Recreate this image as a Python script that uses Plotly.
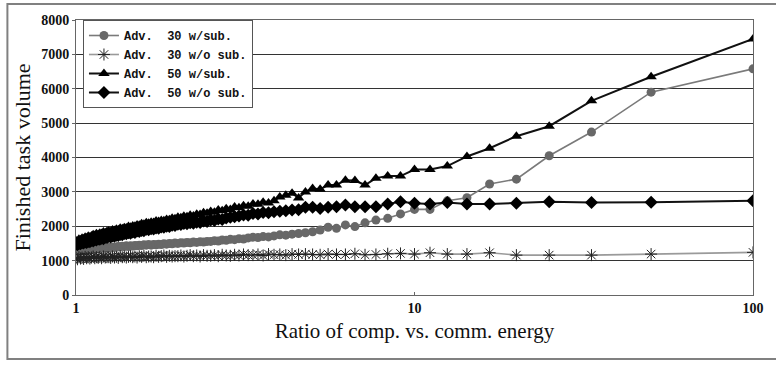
import plotly.graph_objects as go

# x: ratio of computation vs. communication energy (log axis)
ratio = [1.0, 1.010, 1.020, 1.031, 1.042, 1.053, 1.064, 1.075, 1.087, 1.099,
         1.111, 1.124, 1.136, 1.149, 1.163, 1.176, 1.190, 1.205, 1.220, 1.235,
         1.25, 1.266, 1.282, 1.299, 1.316, 1.333, 1.351, 1.370, 1.389, 1.408,
         1.429, 1.449, 1.471, 1.493, 1.515, 1.538, 1.5625, 1.587, 1.613, 1.639,
         1.667, 1.695, 1.724, 1.754, 1.786, 1.818, 1.852, 1.887, 1.923, 1.961,
         2.0, 2.041, 2.083, 2.128, 2.174, 2.222, 2.273, 2.326, 2.381, 2.439,
         2.5, 2.564, 2.632, 2.703, 2.778, 2.857, 2.941, 3.030, 3.125, 3.226,
         3.333, 3.448, 3.571, 3.704, 3.846, 4.0, 4.167, 4.348, 4.545, 4.762,
         5.0, 5.263, 5.556, 5.882, 6.25, 6.667, 7.143, 7.692, 8.333, 9.091,
         10.0, 11.111, 12.5, 14.286, 16.667, 20.0, 25.0, 33.333, 50.0, 100.0]

adv30_sub = [1290, 1310, 1280, 1300, 1320, 1300, 1330, 1310, 1340, 1320,
             1330, 1350, 1340, 1360, 1350, 1370, 1360, 1380, 1370, 1390,
             1370, 1390, 1380, 1400, 1390, 1410, 1400, 1420, 1410, 1430,
             1410, 1430, 1420, 1440, 1430, 1450, 1440, 1460, 1450, 1470,
             1450, 1470, 1460, 1480, 1470, 1490, 1480, 1500, 1490, 1510,
             1500, 1520, 1510, 1530, 1520, 1540, 1530, 1550, 1540, 1560,
             1560, 1580, 1570, 1600, 1590, 1620, 1610, 1640, 1630, 1660,
             1680, 1670, 1700, 1690, 1720, 1750, 1740, 1770, 1790, 1810,
             1840, 1890, 1970, 1940, 2040, 1990, 2100, 2180, 2230, 2360,
             2490, 2490, 2740, 2830, 3230, 3370, 4050, 4740, 5900, 6580]

adv30_nosub = [1080, 1040, 1100, 1060, 1090, 1050, 1110, 1070, 1100, 1060,
               1090, 1120, 1070, 1100, 1080, 1110, 1070, 1120, 1090, 1100,
               1100, 1080, 1120, 1090, 1110, 1080, 1130, 1100, 1120, 1090,
               1110, 1130, 1100, 1120, 1090, 1130, 1110, 1140, 1100, 1120,
               1120, 1100, 1140, 1110, 1130, 1150, 1110, 1140, 1120, 1130,
               1130, 1150, 1120, 1140, 1160, 1130, 1150, 1120, 1160, 1140,
               1140, 1160, 1130, 1170, 1150, 1140, 1170, 1150, 1180, 1160,
               1160, 1180, 1150, 1190, 1170, 1180, 1160, 1190, 1180, 1190,
               1180, 1170, 1190, 1180, 1180, 1200, 1170, 1180, 1200, 1210,
               1190, 1230, 1190, 1190, 1230, 1160, 1160, 1160, 1190, 1240]

adv50_sub = [1580, 1560, 1620, 1600, 1650, 1630, 1680, 1660, 1710, 1690,
             1720, 1750, 1730, 1780, 1760, 1800, 1790, 1830, 1810, 1850,
             1860, 1840, 1890, 1880, 1910, 1900, 1940, 1930, 1960, 1950,
             1990, 1970, 2010, 2000, 2040, 2030, 2070, 2060, 2100, 2090,
             2120, 2110, 2150, 2140, 2170, 2160, 2200, 2190, 2230, 2220,
             2260, 2250, 2290, 2280, 2320, 2300, 2350, 2340, 2390, 2380,
             2430, 2410, 2470, 2450, 2510, 2490, 2560, 2540, 2600, 2580,
             2650, 2640, 2700, 2680, 2740, 2850, 2900, 2960, 2820, 3000,
             3100, 3075, 3200, 3200, 3340, 3330, 3200, 3400, 3460, 3460,
             3650, 3650, 3750, 4030, 4270, 4620, 4910, 5650, 6350, 7450]

adv50_nosub = [1480, 1460, 1500, 1490, 1520, 1510, 1540, 1530, 1560, 1550,
               1590, 1570, 1610, 1600, 1630, 1620, 1650, 1640, 1680, 1670,
               1700, 1690, 1720, 1710, 1740, 1730, 1760, 1750, 1790, 1780,
               1810, 1800, 1830, 1820, 1860, 1850, 1880, 1870, 1910, 1900,
               1930, 1920, 1950, 1940, 1980, 1970, 2000, 1990, 2030, 2020,
               2060, 2050, 2080, 2070, 2100, 2090, 2120, 2110, 2150, 2140,
               2180, 2170, 2210, 2200, 2240, 2260, 2280, 2300, 2330, 2320,
               2370, 2360, 2400, 2390, 2420, 2440, 2450, 2470, 2480, 2550,
               2550, 2520, 2550, 2570, 2620, 2570, 2570, 2570, 2650, 2710,
               2670, 2650, 2690, 2650, 2650, 2670, 2710, 2690, 2700, 2740]

names = ["Adv.  30 w/sub.", "Adv.  30 w/o sub.", "Adv.  50 w/sub.", "Adv.  50 w/o sub."]
x_ticks = [1, 10, 100]
y_ticks = [0, 1000, 2000, 3000, 4000, 5000, 6000, 7000, 8000]

SERIF = "Liberation Serif, Times New Roman, Times, serif"
MONO = "Liberation Mono, Courier New, monospace"

fig = go.Figure()
fig.add_trace(go.Scatter(x=ratio, y=adv30_sub, name="<b>%s</b>" % names[0], mode="lines+markers",
                         line=dict(color="#7a7a7a", width=1.6),
                         marker=dict(symbol="circle", size=9, color="#686868")))
fig.add_trace(go.Scatter(x=ratio, y=adv30_nosub, name="<b>%s</b>" % names[1], mode="lines+markers",
                         line=dict(color="#9a9a9a", width=1.6),
                         marker=dict(symbol="asterisk-open", size=10, color="#222222",
                                     line=dict(color="#222222", width=1))))
fig.add_trace(go.Scatter(x=ratio, y=adv50_sub, name="<b>%s</b>" % names[2], mode="lines+markers",
                         line=dict(color="#111111", width=2),
                         marker=dict(symbol="triangle-up", size=10, color="#000000")))
fig.add_trace(go.Scatter(x=ratio, y=adv50_nosub, name="<b>%s</b>" % names[3], mode="lines+markers",
                         line=dict(color="#111111", width=2),
                         marker=dict(symbol="diamond", size=10, color="#000000")))

L, R, T, B = 76, 19, 20, 72
W, H = 776, 367
pw, ph = W - L - R, H - T - B

fig.update_layout(
    width=W, height=H,
    margin=dict(l=L, r=R, t=T, b=B),
    paper_bgcolor="white", plot_bgcolor="white",
    showlegend=True,
    legend=dict(x=(83 - L) / pw, y=1, xanchor="left", yanchor="top",
                bgcolor="white", bordercolor="#555555", borderwidth=1,
                font=dict(family=MONO, size=12, color="#111111"),
                tracegroupgap=0, itemwidth=30),
    font=dict(family=SERIF, color="#111111"),
    shapes=[dict(type="rect", xref="paper", yref="paper",
                 x0=(7 - L) / pw, x1=1.2, y0=(H - B - 359) / ph, y1=(H - B - 4) / ph,
                 line=dict(color="#808080", width=2), layer="below")],
)
fig.update_xaxes(type="log", range=[0, 2], tickvals=x_ticks,
                 ticktext=["<b>%d</b>" % v for v in x_ticks],
                 showgrid=False, showline=True, linecolor="#666666", linewidth=1, mirror=True,
                 ticks="inside", ticklen=3, tickcolor="#666666",
                 tickfont=dict(family=SERIF, size=14, color="#111111"),
                 title=dict(text="Ratio of comp. vs. comm. energy",
                            font=dict(family=SERIF, size=21, color="#111111"),
                            standoff=8))
fig.update_yaxes(range=[0, 8000], tickvals=y_ticks, ticktext=["<b>%d</b>" % v for v in y_ticks],
                 showgrid=True, gridcolor="#333333", gridwidth=1,
                 showline=True, linecolor="#666666", linewidth=1, mirror=True,
                 ticks="outside", ticklen=3, tickcolor="#666666", zeroline=False,
                 tickfont=dict(family=SERIF, size=14, color="#111111"),
                 title=dict(text="Finished task volume",
                            font=dict(family=SERIF, size=22, color="#111111"),
                            standoff=4))

fig.write_html("out.html")
